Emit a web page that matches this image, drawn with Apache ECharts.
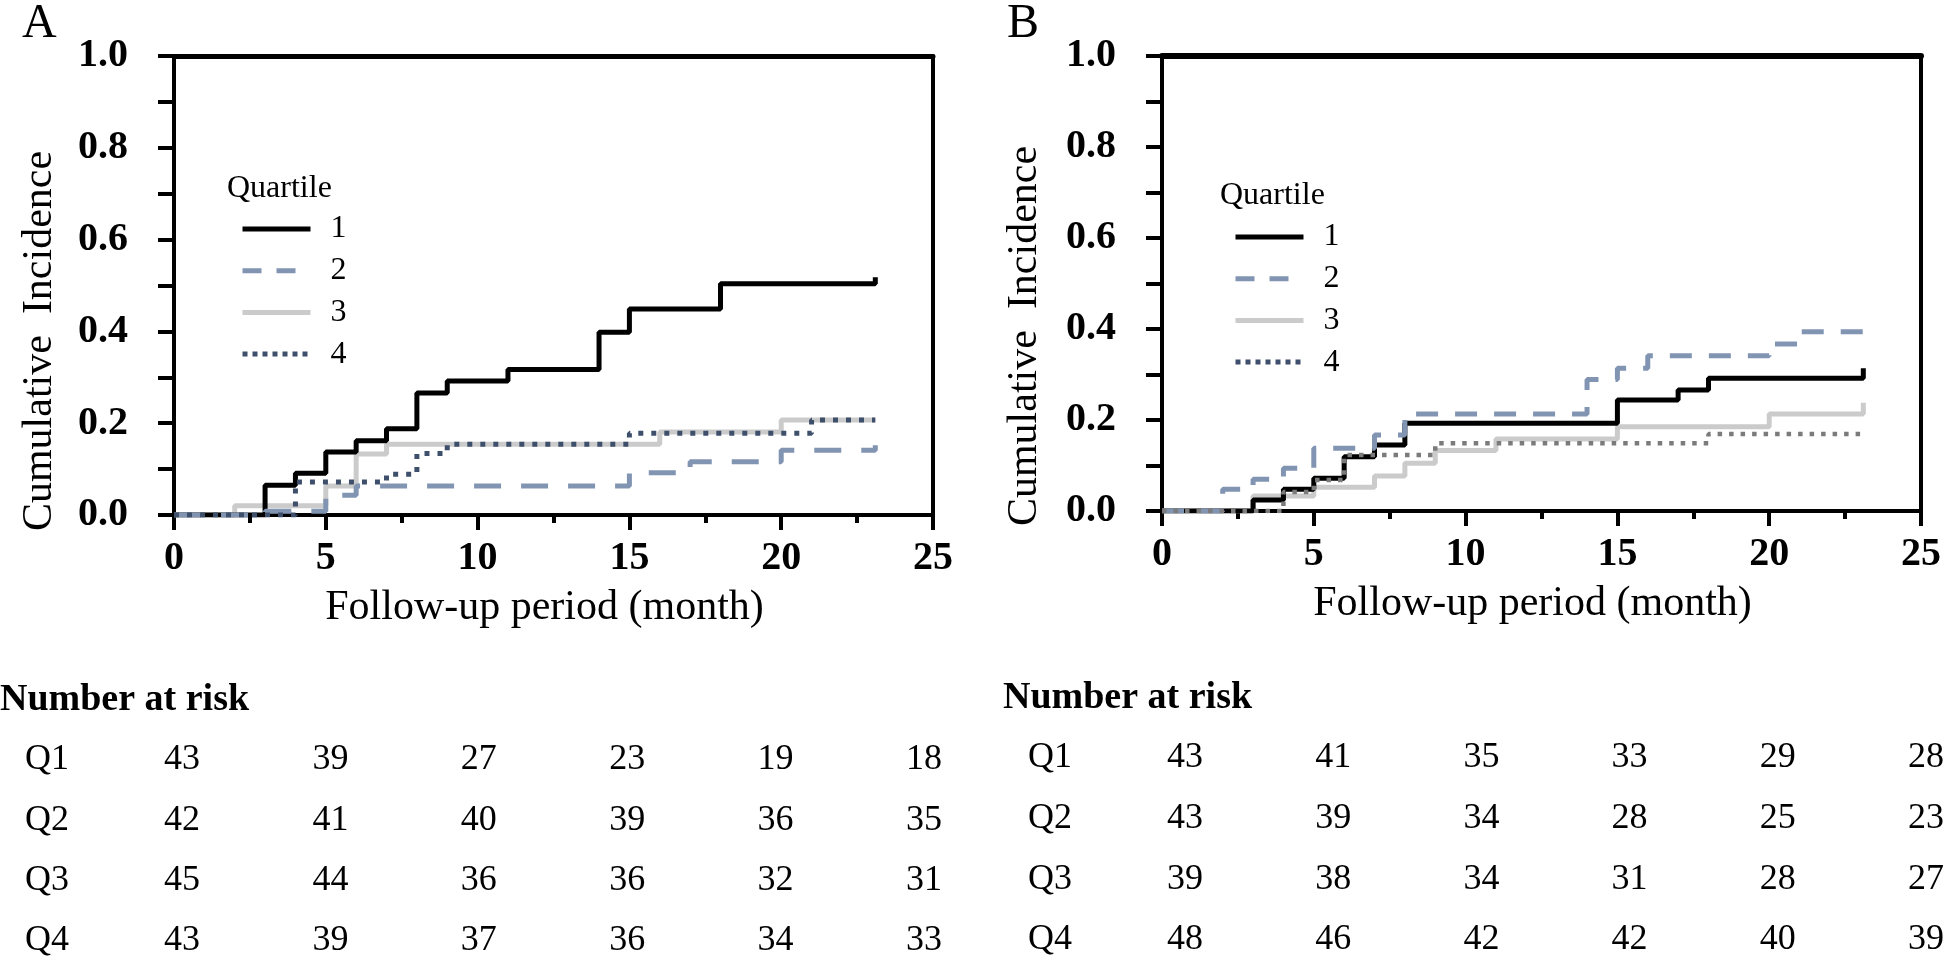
<!DOCTYPE html>
<html><head><meta charset="utf-8">
<script src="https://cdn.jsdelivr.net/npm/echarts@6/dist/echarts.min.js"></script>
<style>html,body{margin:0;padding:0;background:#fff}#c{width:1944px;height:961px}</style>
</head><body><div id="c"></div>
<script>
// ---------- data ----------
const quartiles = ['1', '2', '3', '4'];
const rowLabels = ['Q1', 'Q2', 'Q3', 'Q4'];
const riskTimes = [0, 5, 10, 15, 20, 25];

// Panel A (cumulative incidence, step at time t -> value after the step)
const A_Q1_t = [0, 3, 4, 5, 6, 7, 8, 9, 11, 14, 15, 18, 23.1];
const A_Q1_v = [0, 0.065, 0.091, 0.137, 0.162, 0.188, 0.266, 0.292, 0.317, 0.398, 0.449, 0.504, 0.518];
const A_Q2_t = [0, 3, 5, 6, 15, 17, 20, 23.1];
const A_Q2_v = [0, 0.008, 0.043, 0.063, 0.092, 0.116, 0.141, 0.152];
const A_Q3_t = [0, 2, 5, 6, 7, 16, 20, 23.1];
const A_Q3_v = [0, 0.02, 0.063, 0.133, 0.154, 0.181, 0.207, 0.207];
const A_Q4_t = [0, 4, 7, 8, 9, 15, 21, 23.1];
const A_Q4_v = [0, 0.072, 0.089, 0.134, 0.154, 0.178, 0.207, 0.207];

// Panel B
const B_Q1_t = [0, 3, 4, 5, 6, 7, 8, 15, 17, 18, 23.1];
const B_Q1_v = [0, 0.024, 0.048, 0.072, 0.119, 0.145, 0.193, 0.244, 0.266, 0.292, 0.314];
const B_Q2_t = [0, 2, 3, 4, 5, 7, 8, 14, 15, 16, 20, 21, 23.1];
const B_Q2_v = [0, 0.048, 0.070, 0.094, 0.138, 0.167, 0.213, 0.289, 0.314, 0.341, 0.367, 0.394, 0.394];
const B_Q3_t = [0, 3, 5, 7, 8, 9, 11, 15, 20, 23.1];
const B_Q3_v = [0, 0.033, 0.052, 0.077, 0.105, 0.133, 0.158, 0.185, 0.213, 0.238];
const B_Q4_t = [0, 4, 5, 6, 9, 18, 23.05];
const B_Q4_v = [0, 0.042, 0.068, 0.123, 0.149, 0.169, 0.169];

// Number at risk
const A_risk = [
  [43, 39, 27, 23, 19, 18],
  [42, 41, 40, 39, 36, 35],
  [45, 44, 36, 36, 32, 31],
  [43, 39, 37, 36, 34, 33]
];
const B_risk = [
  [43, 41, 35, 33, 29, 28],
  [43, 39, 34, 28, 25, 23],
  [39, 38, 34, 31, 28, 27],
  [48, 46, 42, 42, 40, 39]
];

// ---------- chart ----------
const FF = "'Liberation Serif','Times New Roman',serif";
const BLACK = '#000';
const C2 = '#8195b3', C3 = '#cbcbcb', C4A = '#3e4f6b', C4B = '#7b7b7b';

function pts(ts, vs) { return ts.map((t, i) => [t, vs[i]]); }

function lineSeries(name, ts, vs, axisIdx, lineStyle, z) {
  return {
    type: 'line', name: name, xAxisIndex: axisIdx, yAxisIndex: axisIdx,
    data: pts(ts, vs), step: 'end', symbol: 'none', showSymbol: false,
    itemStyle: { color: lineStyle.color },
    lineStyle: lineStyle, silent: true, animation: false, z: z
  };
}

function plotAxes(gi) {
  const xb = {
    gridIndex: gi, type: 'value', min: 0, max: 25, interval: 5, position: 'bottom',
    axisLine: { onZero: false, lineStyle: { color: BLACK, width: 4 } },
    axisTick: { length: 15, lineStyle: { color: BLACK, width: 4 } },
    minorTick: { show: true, splitNumber: 2, length: 8, lineStyle: { color: BLACK, width: 4 } },
    splitLine: { show: false }, minorSplitLine: { show: false },
    axisLabel: { margin: 24, fontFamily: FF, fontSize: 40, fontWeight: 'bold', color: BLACK },
    name: 'Follow-up period (month)', nameLocation: 'middle', nameGap: 72,
    nameTextStyle: { fontFamily: FF, fontSize: 42, color: BLACK, padding: [0, 18, 0, 0] }
  };
  const xt = {
    gridIndex: gi, type: 'value', min: 0, max: 25, position: 'top',
    axisLine: { onZero: false, lineStyle: { color: BLACK, width: gi === 0 ? 5 : 6 } },
    axisTick: { show: false }, axisLabel: { show: false }, splitLine: { show: false }
  };
  const yl = {
    gridIndex: gi, type: 'value', min: 0, max: 1, interval: 0.1, position: 'left',
    axisLine: { onZero: false, lineStyle: { color: BLACK, width: 4 } },
    axisTick: { length: 16, lineStyle: { color: BLACK, width: 4 } },
    splitLine: { show: false },
    axisLabel: {
      margin: 46, fontFamily: FF, fontSize: 40, fontWeight: 'bold', color: BLACK,
      formatter: v => (Math.round(v * 10) % 2 === 0 ? v.toFixed(1) : '')
    }
  };
  const yr = {
    gridIndex: gi, type: 'value', min: 0, max: 1, position: 'right',
    axisLine: { onZero: false, lineStyle: { color: BLACK, width: 4 } },
    axisTick: { show: false }, axisLabel: { show: false }, splitLine: { show: false }
  };
  return { x: [xb, xt], y: [yl, yr] };
}

const axA = plotAxes(0), axB = plotAxes(1);

function tableX(gi) { return { gridIndex: gi, type: 'value', min: 0, max: 25, show: false }; }
function tableY(gi) {
  return {
    gridIndex: gi, type: 'category', data: rowLabels, inverse: true, boundaryGap: false,
    axisLine: { show: false }, axisTick: { show: false }, splitLine: { show: false },
    axisLabel: { margin: 113, fontFamily: FF, fontSize: 36, color: BLACK }
  };
}
function tableSeries(axisIdx, rows) {
  const data = [];
  rows.forEach((row, ri) => row.forEach((n, ci) => data.push([riskTimes[ci], ri, n])));
  return {
    type: 'scatter', xAxisIndex: axisIdx, yAxisIndex: axisIdx, data: data,
    symbolSize: 0, itemStyle: { color: BLACK, opacity: 1 }, clip: false, silent: true, animation: false,
    emphasis: { disabled: true },
    label: { show: true, position: 'inside', formatter: p => String(p.value[2]),
      fontFamily: FF, fontSize: 36, color: BLACK, opacity: 1, textBorderWidth: 0 }
  };
}

function legendFor(left, top, w) {
  return {
    orient: 'vertical', left: left, top: top, padding: 0, itemWidth: 68, itemHeight: 32, itemGap: 9.7,
    selectedMode: false,
    itemStyle: { opacity: 0, borderWidth: 0 },
    lineStyle: { width: w },
    textStyle: { fontFamily: FF, fontSize: 32, color: BLACK, padding: [0, 0, 0, 15] },
    data: [
      { name: '1' },
      { name: '2', lineStyle: { type: [19, 15] } },
      { name: '3' },
      { name: '4', lineStyle: { type: [5, 5], color: C4A } }
    ]
  };
}

const axisIdxA = 0, axisIdxB = 2;

const option = {
  backgroundColor: '#fff',
  animation: false,
  grid: [
    { left: 174, right: 1944 - 933, top: 56, bottom: 961 - 515 },
    { left: 1162, right: 1944 - 1924, top: 56, bottom: 961 - 511 },
    { left: 182, right: 1944 - 924, top: 760, bottom: 961 - 941 },
    { left: 1185, right: 1944 - 1926, top: 758, bottom: 961 - 940 }
  ],
  xAxis: [axA.x[0], axA.x[1], axB.x[0], axB.x[1], tableX(2), tableX(3)],
  yAxis: [axA.y[0], axA.y[1], axB.y[0], axB.y[1], tableY(2), tableY(3)],
  legend: [legendFor(240, 213, 5), legendFor(1233, 221, 5)],
  series: [
    lineSeries('1', A_Q1_t, A_Q1_v, axisIdxA, { color: BLACK, width: 5 }, 3),
    lineSeries('2', A_Q2_t, A_Q2_v, axisIdxA, { color: C2, width: 5, type: [27, 20] }, 4),
    lineSeries('3', A_Q3_t, A_Q3_v, axisIdxA, { color: C3, width: 5 }, 2),
    lineSeries('4', A_Q4_t, A_Q4_v, axisIdxA, { color: C4A, width: 5, type: [5, 8] }, 5),
    lineSeries('1', B_Q1_t, B_Q1_v, axisIdxB, { color: BLACK, width: 5 }, 3),
    lineSeries('2', B_Q2_t, B_Q2_v, axisIdxB, { color: C2, width: 5, type: [22, 17] }, 4),
    lineSeries('3', B_Q3_t, B_Q3_v, axisIdxB, { color: C3, width: 5 }, 2),
    lineSeries('4', B_Q4_t, B_Q4_v, axisIdxB, { color: C4B, width: 4.5, type: [4.5, 7] }, 5),
    tableSeries(4, A_risk),
    tableSeries(5, B_risk)
  ],
  graphic: [
    { type: 'text', x: 22, y: 24, style: { text: 'A', font: '48px ' + FF, fill: BLACK, align: 'left', verticalAlign: 'middle' } },
    { type: 'text', x: 1007, y: 24, style: { text: 'B', font: '48px ' + FF, fill: BLACK, align: 'left', verticalAlign: 'middle' } },
    { type: 'text', x: 227, y: 189, style: { text: 'Quartile', font: '32px ' + FF, fill: BLACK, align: 'left', verticalAlign: 'middle' } },
    { type: 'text', x: 1220, y: 196, style: { text: 'Quartile', font: '32px ' + FF, fill: BLACK, align: 'left', verticalAlign: 'middle' } },
    { type: 'text', x: 40, y: 341, rotation: Math.PI / 2, style: { text: 'Cumulative  Incidence', font: '42px ' + FF, fill: BLACK, align: 'center', verticalAlign: 'middle' } },
    { type: 'text', x: 1025, y: 336, rotation: Math.PI / 2, style: { text: 'Cumulative  Incidence', font: '42px ' + FF, fill: BLACK, align: 'center', verticalAlign: 'middle' } },
    { type: 'text', x: 0, y: 700, style: { text: 'Number at risk', font: 'bold 38px ' + FF, fill: BLACK, align: 'left', verticalAlign: 'middle' } },
    { type: 'text', x: 1003, y: 698, style: { text: 'Number at risk', font: 'bold 38px ' + FF, fill: BLACK, align: 'left', verticalAlign: 'middle' } }
  ]
};

const chart = echarts.init(document.getElementById('c'), null, { renderer: 'canvas' });
chart.setOption(option);
</script>
</body></html>
